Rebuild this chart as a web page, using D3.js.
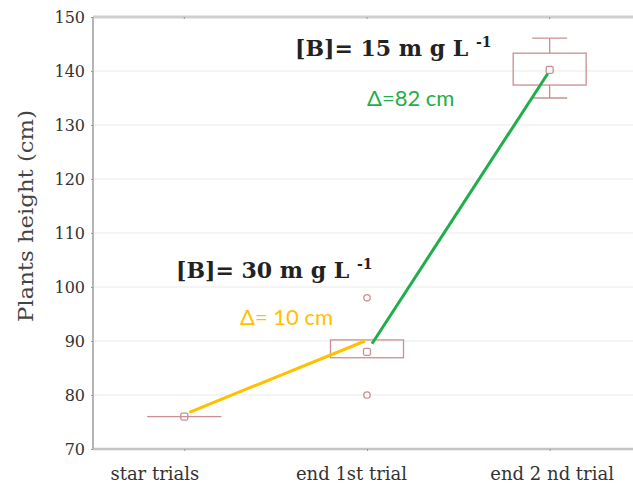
<!DOCTYPE html>
<html>
<head>
<meta charset="utf-8">
<script src="https://cdn.jsdelivr.net/npm/d3@7"></script>
<style>
	body { margin: 0; background: #fff; }
	svg { display: block; }
</style>
</head>
<body>
<svg id="chart" width="633" height="490"></svg>
<script>
// categories and values
const categories = ["star trials", "end 1st trial", "end 2 nd trial"];
const yTicks = [70, 80, 90, 100, 110, 120, 130, 140, 150];

// box values per category
const boxLow = [76, 86.9, 137.4];
const boxHigh = [76, 90.2, 143.3];
const medians = [76, 88, 140.2];
const whiskerLow = [76, 86.9, 135];
const whiskerHigh = [76, 90.2, 146.1];
const outliers = [[], [98, 80], []];

// trend segments
const yellowLine = [76.8, 90];
const greenLine = [89.5, 139.5];

const svg = d3.select("#chart");
const plotLeft = 93, plotTop = 17, plotBottom = 449, plotRight = 641;
const serif = "DejaVu Serif, serif";
// the category labels sit a little left of their ticks in the original
const labelShift = [-30, -16, 2];

const x = d3.scalePoint()
	.domain(categories)
	.range([plotLeft, plotRight])
	.padding(0.5);

const y = d3.scaleLinear()
	.domain([70, 150])
	.range([plotBottom, plotTop]);

// faint grid
svg.selectAll(".grid")
	.data(yTicks.slice(1, -1))
	.enter()
	.append("line")
	.attr("x1", plotLeft)
	.attr("x2", 633)
	.attr("y1", d => y(d))
	.attr("y2", d => y(d))
	.attr("stroke", "#f1f1f1")
	.attr("stroke-width", 1.5);

// frame: top, bottom, left
svg.append("line")
	.attr("x1", plotLeft).attr("x2", 633)
	.attr("y1", plotTop).attr("y2", plotTop)
	.attr("stroke", "#cfcfcf").attr("stroke-width", 3);
svg.append("line")
	.attr("x1", plotLeft).attr("x2", 633)
	.attr("y1", plotBottom).attr("y2", plotBottom)
	.attr("stroke", "#c4c4c4").attr("stroke-width", 2.5);
svg.append("line")
	.attr("x1", plotLeft).attr("x2", plotLeft)
	.attr("y1", plotTop).attr("y2", plotBottom)
	.attr("stroke", "#b5b5b5").attr("stroke-width", 2);

// y axis labels
let yAxis = svg.append("g")
	.attr("transform", "translate(" + plotLeft + ",0)")
	.call(d3.axisLeft(y).tickValues(yTicks).tickSize(2).tickPadding(6));
yAxis.select(".domain").remove();
yAxis.selectAll(".tick line").attr("stroke", "#999");
yAxis.selectAll("text")
	.attr("font-family", serif)
	.attr("font-size", "16px")
	.attr("fill", "#333");

// x axis labels
let xAxis = svg.append("g")
	.attr("transform", "translate(0," + plotBottom + ")")
	.call(d3.axisBottom(x).tickSize(2).tickPadding(16));
xAxis.select(".domain").remove();
xAxis.selectAll(".tick line").attr("stroke", "#999");
xAxis.selectAll("text")
	.attr("font-family", serif)
	.attr("font-size", "18px")
	.attr("fill", "#333")
	.attr("dx", (d, i) => labelShift[i]);

// small ticks on top frame
svg.selectAll(".topTick")
	.data(categories)
	.enter()
	.append("line")
	.attr("x1", d => x(d)).attr("x2", d => x(d))
	.attr("y1", plotTop).attr("y2", plotTop + 2)
	.attr("stroke", "#999");

svg.append("text")
	.attr("transform", "translate(33,216) rotate(-90)")
	.attr("text-anchor", "middle")
	.attr("font-family", serif)
	.attr("font-size", "20px")
	.attr("fill", "#444")
	.attr("textLength", 212)
	.attr("lengthAdjust", "spacingAndGlyphs")
	.text("Plants height (cm)");

// box plots
const boxColor = "#c98f91";
const boxWidth = 73, capWidth = 35;
let boxes = svg.selectAll(".box")
	.data(categories)
	.enter()
	.append("g");

boxes.append("line")
	.attr("x1", d => x(d)).attr("x2", d => x(d))
	.attr("y1", (d, i) => y(whiskerHigh[i]))
	.attr("y2", (d, i) => y(boxHigh[i]))
	.attr("stroke", boxColor).attr("stroke-width", 1.3);
boxes.append("line")
	.attr("x1", d => x(d)).attr("x2", d => x(d))
	.attr("y1", (d, i) => y(boxLow[i]))
	.attr("y2", (d, i) => y(whiskerLow[i]))
	.attr("stroke", boxColor).attr("stroke-width", 1.3);
boxes.filter((d, i) => whiskerHigh[i] > boxHigh[i])
	.append("line")
	.attr("x1", d => x(d) - capWidth / 2).attr("x2", d => x(d) + capWidth / 2)
	.attr("y1", d => y(whiskerHigh[categories.indexOf(d)]))
	.attr("y2", d => y(whiskerHigh[categories.indexOf(d)]))
	.attr("stroke", boxColor).attr("stroke-width", 1.3);
boxes.filter((d, i) => whiskerLow[i] < boxLow[i])
	.append("line")
	.attr("x1", d => x(d) - capWidth / 2).attr("x2", d => x(d) + capWidth / 2)
	.attr("y1", d => y(whiskerLow[categories.indexOf(d)]))
	.attr("y2", d => y(whiskerLow[categories.indexOf(d)]))
	.attr("stroke", boxColor).attr("stroke-width", 1.3);
boxes.append("rect")
	.attr("x", d => x(d) - boxWidth / 2)
	.attr("width", boxWidth)
	.attr("y", (d, i) => y(boxHigh[i]))
	.attr("height", (d, i) => Math.max(0.01, y(boxLow[i]) - y(boxHigh[i])))
	.attr("fill", "none")
	.attr("stroke", boxColor).attr("stroke-width", 1.3);

// trend lines
svg.append("line")
	.attr("x1", x(categories[0]) + 5).attr("y1", y(yellowLine[0]))
	.attr("x2", x(categories[1]) - 2).attr("y2", y(yellowLine[1]))
	.attr("stroke", "#ffc000").attr("stroke-width", 3);
svg.append("line")
	.attr("x1", x(categories[1]) + 5).attr("y1", y(greenLine[0]))
	.attr("x2", x(categories[2]) - 2).attr("y2", y(greenLine[1]))
	.attr("stroke", "#1fae4a").attr("stroke-width", 3);

// medians
boxes.append("rect")
	.attr("x", d => x(d) - 3.5)
	.attr("y", (d, i) => y(medians[i]) - 3.5)
	.attr("width", 7).attr("height", 7)
	.attr("rx", 1.5)
	.attr("fill", "none")
	.attr("stroke", boxColor).attr("stroke-width", 1.3);

// outliers
categories.forEach(function(c, i) {
	svg.selectAll(null)
		.data(outliers[i])
		.enter()
		.append("circle")
		.attr("cx", x(c))
		.attr("cy", d => y(d))
		.attr("r", 3.2)
		.attr("fill", "none")
		.attr("stroke", boxColor).attr("stroke-width", 1.3);
});

// annotations
function concLabel(px, py, value) {
	let t = svg.append("text")
		.attr("x", px).attr("y", py)
		.attr("font-family", serif)
		.attr("font-weight", "bold")
		.attr("font-size", "22px")
		.attr("fill", "#222");
	t.append("tspan").text("[B]= " + value + " m g L ");
	t.append("tspan").attr("dy", -9).attr("font-size", "14px").text("-1");
}
concLabel(295, 56, 15);
concLabel(176, 278, 30);

svg.append("text")
	.attr("x", 367).attr("y", 106)
	.attr("font-family", "Lato, Open Sans, sans-serif")
	.attr("font-size", "22px")
	.attr("fill", "#1fae4a")
	.text("Δ=82 cm");
svg.append("text")
	.attr("x", 240).attr("y", 325)
	.attr("font-family", "Lato, Open Sans, sans-serif")
	.attr("font-size", "22px")
	.attr("fill", "#ffc000")
	.text("Δ= 10 cm");
</script>
</body>
</html>
